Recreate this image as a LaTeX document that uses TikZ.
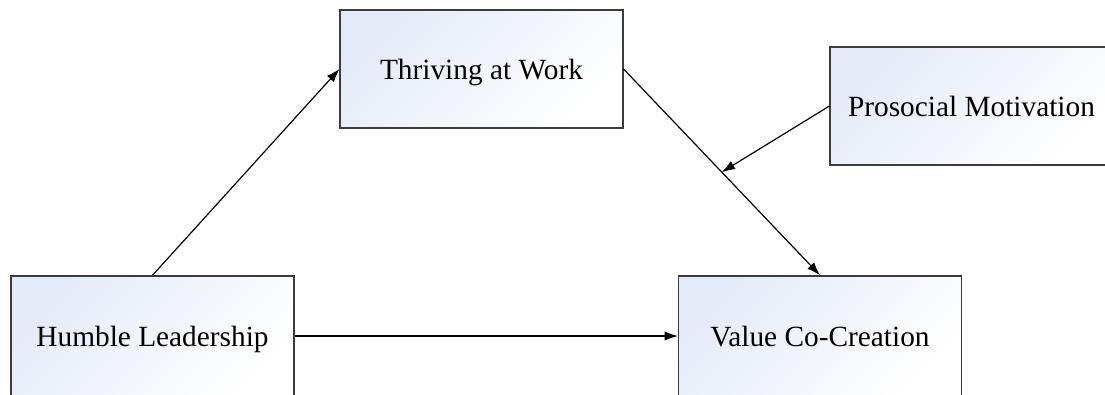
\documentclass[tikz,border=0pt]{standalone}
\usepackage{fontspec}
\setmainfont{Liberation Serif}
\definecolor{boxblue}{RGB}{228,235,248}
\definecolor{edgegray}{RGB}{60,60,60}
\usetikzlibrary{calc, arrows.meta, positioning}

\begin{document}
\begin{tikzpicture}[x=0.75pt, y=-0.75pt,
    construct/.style={draw=edgegray, line width=1.1pt, shading=axis, top color=boxblue,
      bottom color=white, shading angle=45, minimum width=212pt, minimum height=88.5pt,
      inner sep=0pt, text depth=0pt, font=\fontsize{22}{24}\selectfont, align=center},
    path/.style={line width=0.9pt, -{Latex[length=10pt, width=7pt]}},
  ]
    \useasboundingbox (0, 0) rectangle (1105, 394);
    \node[construct] (thrive) at (481.5, 69) {Thriving at Work};
    \node[construct, minimum height=90pt] (humble) at (152.5, 336) {Humble Leadership};
    \node[construct, minimum height=90pt] (value) at (820, 336) {Value Co-Creation};
    \node[construct] (prosoc) at (971.5, 106) {Prosocial Motivation};
    \coordinate (mod) at ($(thrive.east)!0.5!(value.north)$);
    \draw[path] (humble.north) -- (thrive.west);
    \draw[path] (thrive.east) -- (value.north);
    \draw[path] (humble.east) -- (value.west);
    \draw[path] (prosoc.west) -- (mod);
  \end{tikzpicture}
\end{document}
